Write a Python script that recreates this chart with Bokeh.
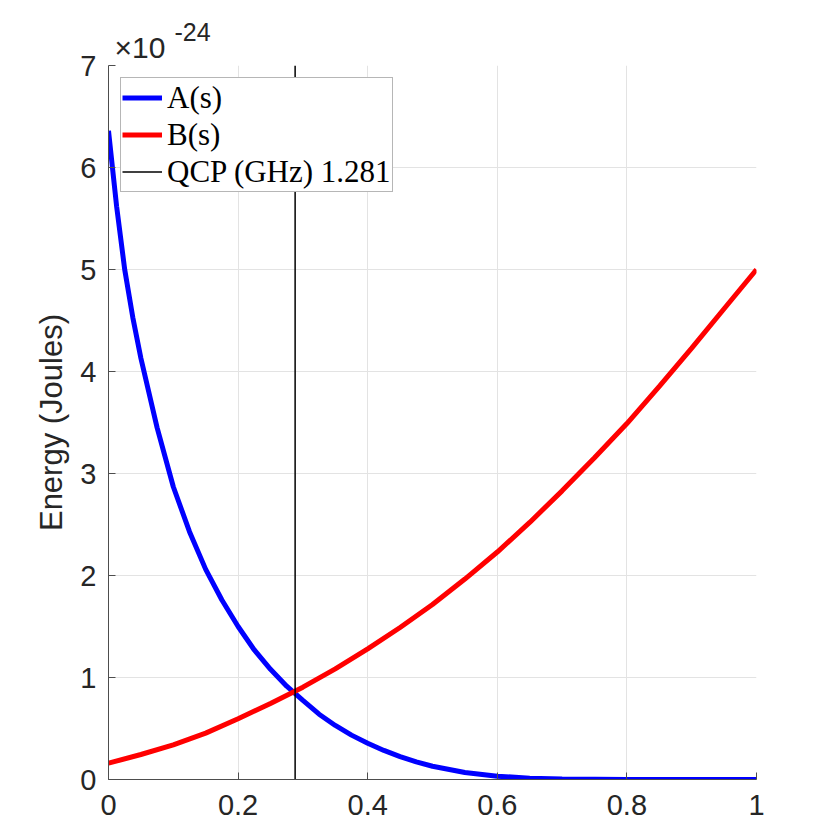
from bokeh.plotting import figure
from bokeh.models import Range1d, FixedTicker, Title
from bokeh.embed import file_html
from bokeh.resources import INLINE

# ---- data ----
s_A = [0.0, 0.0125, 0.025, 0.0375, 0.05, 0.075, 0.1, 0.125, 0.15, 0.175, 0.2,
       0.225, 0.25, 0.275, 0.3, 0.325, 0.35, 0.375, 0.4, 0.425, 0.45, 0.475,
       0.5, 0.55, 0.6, 0.65, 0.7, 0.8, 0.9, 1.0]
A_vals = [6.36, 5.62, 5.0, 4.53, 4.13, 3.45, 2.87, 2.43, 2.06, 1.76, 1.50,
          1.27, 1.08, 0.915, 0.775, 0.64, 0.53, 0.435, 0.355, 0.285, 0.225, 0.173,
          0.13, 0.068, 0.032, 0.013, 0.004, 0.0005, 0.0, 0.0]

s_B = [0.0, 0.05, 0.1, 0.15, 0.2, 0.25, 0.3, 0.35, 0.4, 0.45, 0.5, 0.55, 0.6,
       0.65, 0.7, 0.75, 0.8, 0.85, 0.9, 0.95, 1.0]
B_vals = [0.16, 0.245, 0.34, 0.455, 0.595, 0.745, 0.905, 1.085, 1.28, 1.49, 1.715,
          1.965, 2.23, 2.52, 2.83, 3.155, 3.49, 3.855, 4.23, 4.615, 5.0]

qcp_s = 0.288
qcp_label = "QCP (GHz) 1.281"

x_ticks = [0, 0.2, 0.4, 0.6, 0.8, 1]
x_tick_labels = ["0", "0.2", "0.4", "0.6", "0.8", "1"]
y_ticks = [0, 1, 2, 3, 4, 5, 6, 7]
y_tick_labels = ["0", "1", "2", "3", "4", "5", "6", "7"]
y_min, y_max = 0, 7
x_min, x_max = 0, 1
multiplier_base = "×10"
multiplier_exp = "-24"

TXT = "#262626"
AX = "#4d4d4d"
SANS = "Liberation Sans"

p = figure(width=819, height=833, output_backend="svg", toolbar_location=None,
           x_range=Range1d(x_min, x_max), y_range=Range1d(y_min, y_max),
           min_border_left=108, min_border_right=63, min_border_top=65,
           min_border_bottom=54)
p.outline_line_color = None
p.background_fill_color = "white"
p.border_fill_color = "white"

p.line(s_A, A_vals, line_color="#0000ff", line_width=5, legend_label="A(s)")
p.line(s_B, B_vals, line_color="#ff0000", line_width=5, legend_label="B(s)")
p.line([qcp_s, qcp_s], [y_min, y_max], line_color="black", line_width=1.5,
       legend_label=qcp_label)

# axes
p.xaxis.ticker = FixedTicker(ticks=x_ticks)
p.yaxis.ticker = FixedTicker(ticks=y_ticks)
p.xaxis.major_label_overrides = {t: l for t, l in zip(x_ticks, x_tick_labels)}
p.yaxis.major_label_overrides = {t: l for t, l in zip(y_ticks, y_tick_labels)}
for ax in (p.xaxis[0], p.yaxis[0]):
    ax.axis_line_color = AX
    ax.axis_line_width = 1
    ax.major_tick_line_color = AX
    ax.major_tick_in = 7
    ax.major_tick_out = 0
    ax.minor_tick_line_color = None
    ax.major_label_text_font = SANS
    ax.major_label_text_font_size = "29px"
    ax.major_label_text_color = TXT
p.xaxis.major_label_standoff = 15
p.yaxis.major_label_standoff = 12
p.yaxis.axis_label = "Energy (Joules)"
p.yaxis.axis_label_text_font = SANS
p.yaxis.axis_label_text_font_size = "31px"
p.yaxis.axis_label_text_font_style = "normal"
p.yaxis.axis_label_text_color = TXT
p.yaxis.axis_label_standoff = 8

p.xgrid.grid_line_color = "#e3e3e3"
p.ygrid.grid_line_color = "#e3e3e3"
p.xgrid.grid_line_width = 1
p.ygrid.grid_line_width = 1

# exponent multiplier (as title panels above the frame)
p.add_layout(Title(text=multiplier_base, align="left", offset=6, standoff=4,
                   text_font=SANS, text_font_size="30px", text_font_style="normal",
                   text_color=TXT), "above")
p.add_layout(Title(text=multiplier_exp, align="left", offset=66, standoff=-28.8,
                   text_font=SANS, text_font_size="25px", text_font_style="normal",
                   text_color=TXT), "above")

# legend
leg = p.legend[0]
leg.location = "top_left"
leg.margin = 12
leg.padding = 1
leg.spacing = 0
leg.glyph_width = 40
leg.glyph_height = 37
leg.label_height = 37
leg.label_standoff = 5
leg.label_text_font = "Liberation Serif"
leg.label_text_font_size = "31px"
leg.label_text_color = "black"
leg.border_line_color = "#6e6e6e"
leg.border_line_width = 1
leg.background_fill_color = "white"
leg.background_fill_alpha = 1

open("out.html", "w").write(file_html(p, INLINE))
